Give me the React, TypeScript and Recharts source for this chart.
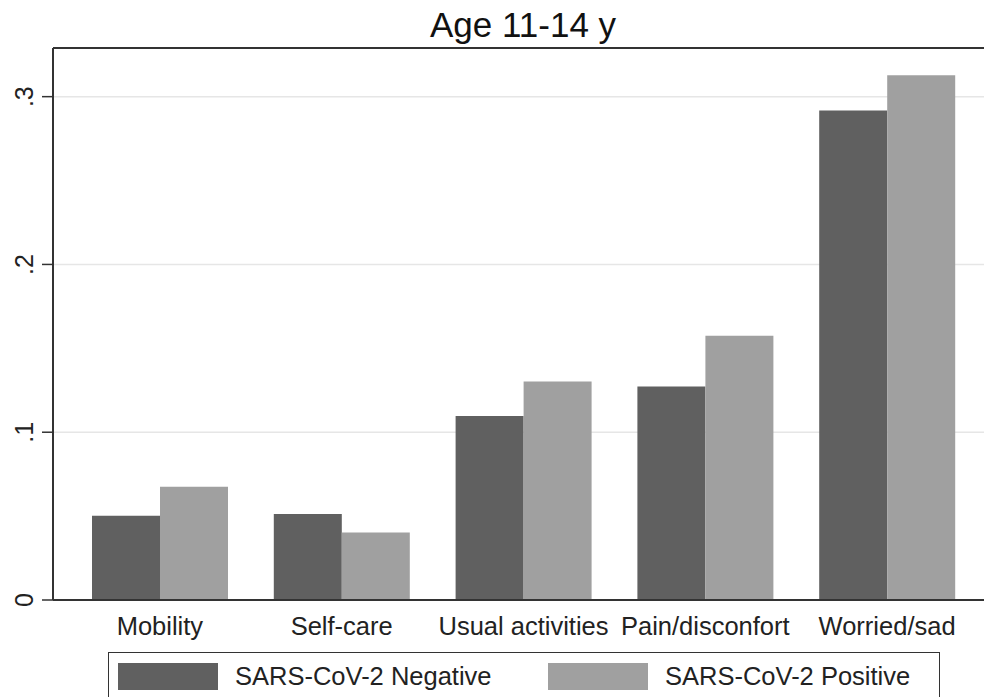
import { BarChart, Bar, XAxis, YAxis, CartesianGrid, Legend, ReferenceLine } from 'recharts';

const categories = ['Mobility', 'Self-care', 'Usual activities', 'Pain/disconfort', 'Worried/sad'];
const negative = [0.0502, 0.0512, 0.1097, 0.1272, 0.2917];
const positive = [0.0675, 0.0403, 0.1302, 0.1575, 0.3127];
const yTicks = [0, 0.1, 0.2, 0.3];
const yMax = 0.329;

const data = categories.map((name, i) => ({ name, neg: negative[i], pos: positive[i] }));

const font = '"Liberation Sans", Arial, sans-serif';

const fmt = (v: number) => (v === 0 ? '0' : String(v).replace(/^0/, ''));

const YTick = ({ x, y, payload }: any) => (
   <text
      x={x}
      y={y}
      transform={`rotate(-90, ${x}, ${y})`}
      textAnchor='middle'
      fontSize={25}
      fill='#222'
      fontFamily={font}
   >
      {fmt(payload.value)}
   </text>
);

const LegendBox = ({ payload }: any) => (
   <div
      style={{
         boxSizing: 'border-box',
         width: 832,
         height: 60,
         border: '1.5px solid #333',
         borderBottom: 'none',
         paddingLeft: 9,
         paddingTop: 10,
         display: 'flex',
         overflow: 'visible',
         fontFamily: font,
         fontSize: 25.5,
         color: '#222'
      }}
   >
      {(payload || []).map((p: any) => (
         <div
            key={p.value}
            style={{ width: 430, flex: 'none', display: 'flex', alignItems: 'center', height: 27 }}
         >
            <div style={{ width: 100, height: 27, background: p.color, marginRight: 17, flex: 'none' }} />
            <span style={{ whiteSpace: 'nowrap' }}>{p.value}</span>
         </div>
      ))}
   </div>
);

export default function App() {
   return (
      <div style={{ position: 'absolute', left: 0, top: 0, width: 984, height: 697, background: '#fff', overflow: 'hidden' }}>
         <div
            style={{
               position: 'absolute',
               left: 413,
               top: 7,
               width: 220,
               textAlign: 'center',
               fontFamily: font,
               fontSize: 35,
               lineHeight: '35px',
               color: '#111'
            }}
         >
            Age 11-14 y
         </div>
         <BarChart
            width={984}
            height={697}
            data={data}
            margin={{ top: 48, right: 0, left: 0, bottom: 0 }}
            barGap={0}
            barSize={68}
         >
            <CartesianGrid vertical={false} stroke='#e6e6e6' strokeWidth={1.5} />
            <XAxis
               dataKey='name'
               height={97}
               padding={{ left: 16, right: 6 }}
               tickLine={false}
               tickSize={0}
               tickMargin={17}
               interval={0}
               axisLine={{ stroke: '#333', strokeWidth: 2 }}
               tick={{ fontSize: 25.5, fill: '#222', fontFamily: font }}
            />
            <YAxis
               width={53}
               domain={[0, yMax]}
               ticks={yTicks}
               tickSize={11}
               tickMargin={9}
               tickLine={{ stroke: '#333', strokeWidth: 1.5 }}
               axisLine={{ stroke: '#333', strokeWidth: 2 }}
               tick={<YTick />}
            />
            <ReferenceLine y={yMax} stroke='#333' strokeWidth={2} />
            <Legend
               layout='horizontal'
               verticalAlign='middle'
               align='center'
               content={<LegendBox />}
               wrapperStyle={{ left: 108, top: 652, width: 832 }}
            />
            <Bar dataKey='neg' name='SARS-CoV-2 Negative' fill='#606060' isAnimationActive={false} />
            <Bar dataKey='pos' name='SARS-CoV-2 Positive' fill='#a0a0a0' isAnimationActive={false} />
         </BarChart>
      </div>
   );
}
